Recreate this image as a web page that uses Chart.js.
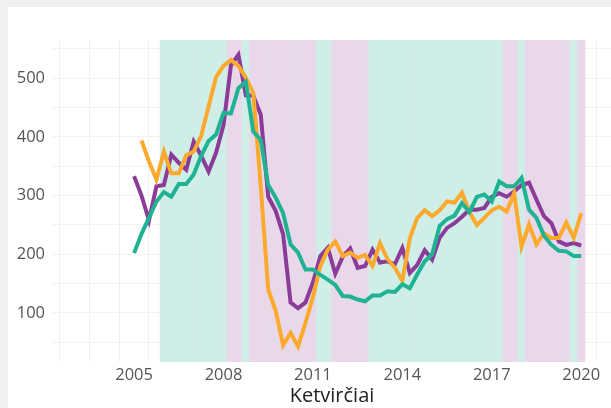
<!DOCTYPE html>
<html lang="lt">
<head>
<meta charset="utf-8">
<script src="https://cdn.jsdelivr.net/npm/chart.js@4.4.1/dist/chart.umd.min.js"></script>
<style>
  html, body { margin: 0; padding: 0; background: #f0f0f0; }
  #wrap  { position: relative; width: 611px; height: 408px; overflow: hidden; }
  #panel { position: absolute; left: 8px; top: 7px; right: 0; bottom: 0; background: #fff; }
  #chart { position: absolute; left: 0; top: 0; }
</style>
</head>
<body>
<div id="wrap">
  <div id="panel"></div>
  <canvas id="chart" width="611" height="408"></canvas>
</div>
<script>
// ── Ketvirčiai ────────────────────────────────────────────────────────────
const QUARTERS = [
  "2005 K1","2005 K2","2005 K3","2005 K4","2006 K1","2006 K2","2006 K3","2006 K4",
  "2007 K1","2007 K2","2007 K3","2007 K4","2008 K1","2008 K2","2008 K3","2008 K4",
  "2009 K1","2009 K2","2009 K3","2009 K4","2010 K1","2010 K2","2010 K3","2010 K4",
  "2011 K1","2011 K2","2011 K3","2011 K4","2012 K1","2012 K2","2012 K3","2012 K4",
  "2013 K1","2013 K2","2013 K3","2013 K4","2014 K1","2014 K2","2014 K3","2014 K4",
  "2015 K1","2015 K2","2015 K3","2015 K4","2016 K1","2016 K2","2016 K3","2016 K4",
  "2017 K1","2017 K2","2017 K3","2017 K4","2018 K1","2018 K2","2018 K3","2018 K4",
  "2019 K1","2019 K2","2019 K3","2019 K4","2020 K1"
]

// Fazė kiekvienam ketvirčiui: A – augimas, N – nuosmukis, null – nežymima
const PHASE = [
  null,null,null,null,
  "A","A","A","A","A","A","A","A","A",
  "N","N",
  "A",
  "N","N","N","N","N","N","N","N","N",
  "A","A",
  "N","N","N","N","N",
  "A","A","A","A","A","A","A","A","A","A","A","A","A","A","A","A","A","A",
  "N","N",
  "A",
  "N","N","N","N","N","N",
  "A",
  "N"
]

// ── Eilutės ───────────────────────────────────────────────────────────────
const seriesA = [
  333, 300, 258, 316, 318, 370, 356, 344, 392, 368,
  341, 373, 420, 522, 540, 471, 470, 438, 298, 274,
  234, 118, 108, 118, 152, 197, 211, 167, 196, 210,
  177, 180, 208, 186, 188, 183, 211, 168, 182, 207,
  191, 228, 245, 253, 264, 276, 276, 279, 298, 304,
  298, 307, 318, 322, 293, 265, 253, 222, 216, 219,
  215
]
const seriesB = [
  null, 394, 358, 327, 375, 338, 338, 369, 375, 402,
  452, 502, 521, 531, 521, 501, 475, 315, 140, 104,
   45,  66,  43,  83, 127, 180, 208, 222, 197, 203,
  194, 199, 180, 219, 192, 177, 155, 227, 262, 275,
  265, 275, 290, 288, 305, 272, 250, 262, 275, 281,
  273, 304, 213, 251, 217, 236, 228, 228, 254, 228,
  270
]
const seriesC = [
  202, 235, 262, 290, 306, 298, 320, 320, 336, 368,
  393, 404, 441, 440, 483, 494, 409, 395, 318, 297,
  270, 217, 203, 174, 174, 165, 157, 148, 129, 128,
  123, 120, 130, 130, 137, 136, 149, 142, 166, 188,
  200, 248, 260, 266, 287, 272, 298, 302, 290, 324,
  316, 316, 330, 276, 262, 232, 216, 206, 205, 197,
  197
]

// ── Ašys ──────────────────────────────────────────────────────────────────
const X_MIN = 2002.28, X_MAX = 2021.0
const Y_MIN = 16.5,    Y_MAX = 565.2
const X_GRID   = [2003,2004,2005,2006,2007,2008,2009,2010,2011,2012,2013,2014,2015,2016,2017,2018,2019,2020,2021]
const X_LABELS = [2005, 2008, 2011, 2014, 2017, 2020]
const Y_GRID   = [50, 100, 150, 200, 250, 300, 350, 400, 450, 500, 550]
const Y_LABELS = [100, 200, 300, 400, 500]

const FONT = "'Open Sans', 'Noto Sans', sans-serif"
const GRID = "#f1f1f1"
const PHASE_COLOR = { A: "#d0eee8", N: "#e8d8ea" }

// "2008 K3" -> 2008.5
function qx(q) {
  const [y, k] = q.split(" K")
  return Number(y) + (Number(k) - 1) / 4
}

const toPoints = vals => QUARTERS
  .map((q, i) => vals[i] == null ? null : { x: qx(q), y: vals[i] })
  .filter(Boolean)

const bands = QUARTERS
  .map((q, i) => PHASE[i] ? { x: qx(q), y: [Y_MIN, Y_MAX], phase: PHASE[i] } : null)
  .filter(Boolean)

const lineStyle = color => ({
  type: "line",
  borderColor: color,
  borderWidth: 4,
  pointRadius: 0,
  tension: 0,
  fill: false
})

new Chart(document.getElementById("chart"), {
  data: {
    datasets: [
      { ...lineStyle("#1fb394"), data: toPoints(seriesC), order: 0 },
      { ...lineStyle("#fbaa2e"), data: toPoints(seriesB), order: 1 },
      { ...lineStyle("#8b3b98"), data: toPoints(seriesA), order: 2 },
      {
        type: "bar",
        data: bands,
        backgroundColor: bands.map(b => PHASE_COLOR[b.phase]),
        borderWidth: 0,
        barPercentage: 1,
        categoryPercentage: 1,
        grouped: false,
        order: 3
      }
    ]
  },
  options: {
    responsive: false,
    animation: false,
    events: [],
    layout: { padding: { top: 40, left: 0, right: 0, bottom: 0 } },
    plugins: { legend: { display: false }, tooltip: { enabled: false } },
    scales: {
      x: {
        type: "linear",
        min: X_MIN,
        max: X_MAX,
        offset: false,
        afterBuildTicks: s => { s.ticks = X_GRID.map(v => ({ value: v })) },
        afterFit: s => { s.height = 46; s.paddingLeft = 0; s.paddingRight = 0 },
        grid: { color: GRID, drawTicks: false },
        border: { display: false },
        ticks: {
          autoSkip: false,
          maxRotation: 0,
          padding: 3,
          color: "#555",
          font: { family: FONT, size: 16.5 },
          callback: v => (X_LABELS.includes(v) ? String(v) : "")
        },
        title: {
          display: true,
          text: "Ketvirčiai",
          color: "#222",
          font: { family: FONT, size: 20 },
          padding: { top: 0, bottom: 0 }
        }
      },
      y: {
        min: Y_MIN,
        max: Y_MAX,
        beginAtZero: false,
        afterBuildTicks: s => { s.ticks = Y_GRID.map(v => ({ value: v })) },
        afterFit: s => { s.width = 53; s.paddingTop = 0; s.paddingBottom = 0 },
        grid: { color: GRID, drawTicks: false },
        border: { display: false },
        ticks: {
          padding: 8,
          color: "#555",
          font: { family: FONT, size: 16.5 },
          callback: v => (Y_LABELS.includes(v) ? String(v) : "")
        }
      }
    }
  }
})
</script>
</body>
</html>
